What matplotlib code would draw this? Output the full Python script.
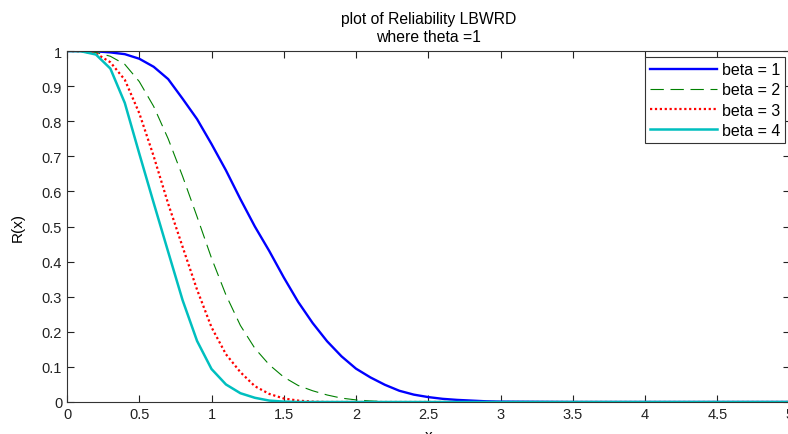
import matplotlib

matplotlib.use("Agg")
import matplotlib.pyplot as plt

matplotlib.rcParams["font.family"] = ["Liberation Sans", "DejaVu Sans"]

# step 0.1 from 0 to 3.0, zero after that
x_vals = [round(0.1 * i, 1) for i in range(31)] + [3.5, 4.0, 4.5, 5.0]

beta1 = [1.0, 1.0, 0.999, 0.996, 0.991, 0.978, 0.955, 0.92, 0.864, 0.806,
         0.735, 0.66, 0.578, 0.50, 0.43, 0.355, 0.285, 0.225, 0.173, 0.13,
         0.095, 0.07, 0.049, 0.032, 0.021, 0.014, 0.009, 0.006, 0.004, 0.002,
         0.001, 0.0, 0.0, 0.0, 0.0]
beta2 = [1.0, 1.0, 0.996, 0.985, 0.962, 0.913, 0.842, 0.75, 0.643, 0.528,
         0.41, 0.305, 0.218, 0.153, 0.106, 0.071, 0.047, 0.032, 0.02, 0.011,
         0.006, 0.003, 0.001, 0.0, 0.0, 0.0, 0.0, 0.0, 0.0, 0.0,
         0.0, 0.0, 0.0, 0.0, 0.0]
beta3 = [1.0, 0.999, 0.993, 0.968, 0.918, 0.823, 0.70, 0.565, 0.442, 0.32,
         0.213, 0.136, 0.085, 0.045, 0.023, 0.01, 0.004, 0.001, 0.0, 0.0,
         0.0, 0.0, 0.0, 0.0, 0.0, 0.0, 0.0, 0.0, 0.0, 0.0,
         0.0, 0.0, 0.0, 0.0, 0.0]
beta4 = [1.0, 0.999, 0.99, 0.95, 0.852, 0.708, 0.567, 0.428, 0.29, 0.174,
         0.094, 0.05, 0.025, 0.012, 0.004, 0.001, 0.0, 0.0, 0.0, 0.0,
         0.0, 0.0, 0.0, 0.0, 0.0, 0.0, 0.0, 0.0, 0.0, 0.0,
         0.0, 0.0, 0.0, 0.0, 0.0]

x_ticks = [0, 0.5, 1, 1.5, 2, 2.5, 3, 3.5, 4, 4.5, 5]
x_ticklabels = ["0", "0.5", "1", "1.5", "2", "2.5", "3", "3.5", "4", "4.5", "5"]
y_ticks = [0, 0.1, 0.2, 0.3, 0.4, 0.5, 0.6, 0.7, 0.8, 0.9, 1]
y_ticklabels = ["0", "0.1", "0.2", "0.3", "0.4", "0.5", "0.6", "0.7", "0.8", "0.9", "1"]


def main():
    fig = plt.figure(figsize=(7.88, 4.35), dpi=100)
    ax = fig.add_axes([67 / 788, 32 / 435, 722.5 / 788, 351 / 435])

    ax.plot(x_vals, beta1, color="#0000ff", lw=1.7, label="beta = 1")
    ax.plot(x_vals, beta2, color="#008000", lw=0.8, dashes=(12, 6), label="beta = 2")
    ax.plot(x_vals, beta3, color="#ff0000", lw=1.6, ls=(0, (1, 1.2)), label="beta = 3")
    ax.plot(x_vals, beta4, color="#00bfbf", lw=1.8, label="beta = 4")

    ax.set_xlim(0, 5)
    ax.set_ylim(0, 1)
    ax.set_xticks(x_ticks, x_ticklabels)
    ax.set_yticks(y_ticks, y_ticklabels)
    ax.tick_params(direction="in", length=5, width=0.8, labelsize=10.5,
                   top=True, right=True, colors="#222222")
    for sp in ax.spines.values():
        sp.set_color("#333333")
        sp.set_linewidth(0.8)

    ax.set_xlabel("x", fontsize=11, labelpad=5)
    ax.set_ylabel("R(x)", fontsize=11, labelpad=12)
    ax.set_title("plot of Reliability LBWRD\nwhere theta =1", fontsize=11.3,
                 linespacing=1.25, pad=7)

    leg = ax.legend(loc="upper right", bbox_to_anchor=(785 / 788, 1 - 58 / 435),
                    bbox_transform=fig.transFigure, fontsize=11.5, fancybox=False,
                    framealpha=1, edgecolor="#333333", handlelength=4.2,
                    handletextpad=0.3, labelspacing=0.33, borderpad=0.32,
                    borderaxespad=0)
    leg.get_frame().set_linewidth(0.8)

    fig.savefig("out.png", dpi=100)


if __name__ == "__main__":
    main()
